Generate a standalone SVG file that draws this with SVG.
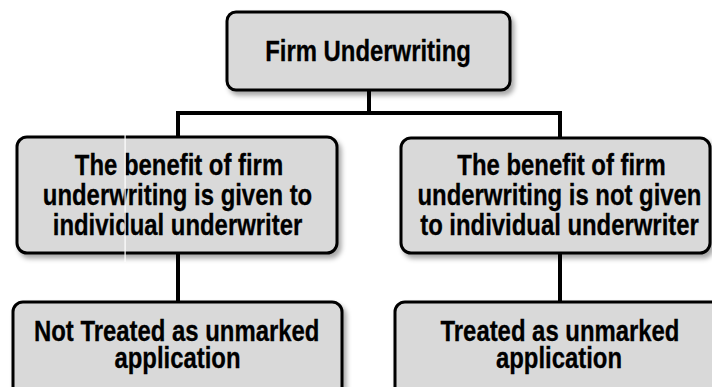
<svg xmlns="http://www.w3.org/2000/svg" width="712" height="387" viewBox="0 0 712 387">
  <defs>
    <filter id="shadow" x="-10%" y="-10%" width="130%" height="140%">
      <feDropShadow dx="3" dy="4" stdDeviation="2.5" flood-color="#000" flood-opacity="0.35"/>
    </filter>
    <style>
      .box { fill: #d9d9d9; stroke: #000; stroke-width: 3; filter: url(#shadow); }
      .link { stroke: #000; stroke-width: 4; fill: none; }
      .label { font-family: "Liberation Sans", Arial, sans-serif; font-weight: bold; font-size: 29.5px; fill: #000; stroke: #000; stroke-width: 0.3; text-anchor: middle; }
    </style>
  </defs>
  <rect width="712" height="387" fill="#fff"/>

  <!-- connectors -->
  <g id="connectors">
    <path class="link" d="M369 90 V113"/>
    <path class="link" d="M176 113 H562"/>
    <path class="link" d="M178 111 V138"/>
    <path class="link" d="M560 111 V138"/>
    <path class="link" d="M178 253 V302"/>
    <path class="link" d="M560 253 V302"/>
  </g>

  <!-- root; labels are set in a narrowed bold face (x scaled to 0.81) -->
  <g id="firm-underwriting">
    <rect class="box" x="227" y="12" width="283" height="78" rx="9"/>
    <text class="label" transform="translate(368 61) scale(0.81 1)">Firm Underwriting</text>
  </g>

  <!-- left branch -->
  <g id="benefit-given">
    <rect class="box" x="17" y="137" width="320" height="116" rx="10"/>
    <text class="label" transform="translate(179 175) scale(0.81 1)">The benefit of firm</text>
    <text class="label" transform="translate(177.5 205) scale(0.81 1)">underwriting is given to</text>
    <text class="label" transform="translate(177.5 235) scale(0.81 1)">individual underwriter</text>
  </g>

  <!-- right branch -->
  <g id="benefit-not-given">
    <rect class="box" x="401" y="138" width="309" height="115" rx="10"/>
    <text class="label" transform="translate(561.5 175) scale(0.81 1)">The benefit of firm</text>
    <text class="label" transform="translate(559.5 205) scale(0.81 1)">underwriting is not given</text>
    <text class="label" transform="translate(559.5 235) scale(0.81 1)">to individual underwriter</text>
  </g>

  <!-- outcomes -->
  <g id="not-treated">
    <rect class="box" x="13" y="302" width="329" height="100" rx="10"/>
    <text class="label" transform="translate(176.7 341) scale(0.81 1)">Not Treated as unmarked</text>
    <text class="label" transform="translate(177.5 368) scale(0.81 1)">application</text>
  </g>

  <g id="treated">
    <rect class="box" x="395" y="302" width="330" height="100" rx="10"/>
    <text class="label" transform="translate(560 341) scale(0.81 1)">Treated as unmarked</text>
    <text class="label" transform="translate(559 368) scale(0.81 1)">application</text>
  </g>

  <!-- thin light seam across the left column -->
  <rect x="124.5" y="128" width="1.2" height="134" fill="#fff"/>
</svg>
